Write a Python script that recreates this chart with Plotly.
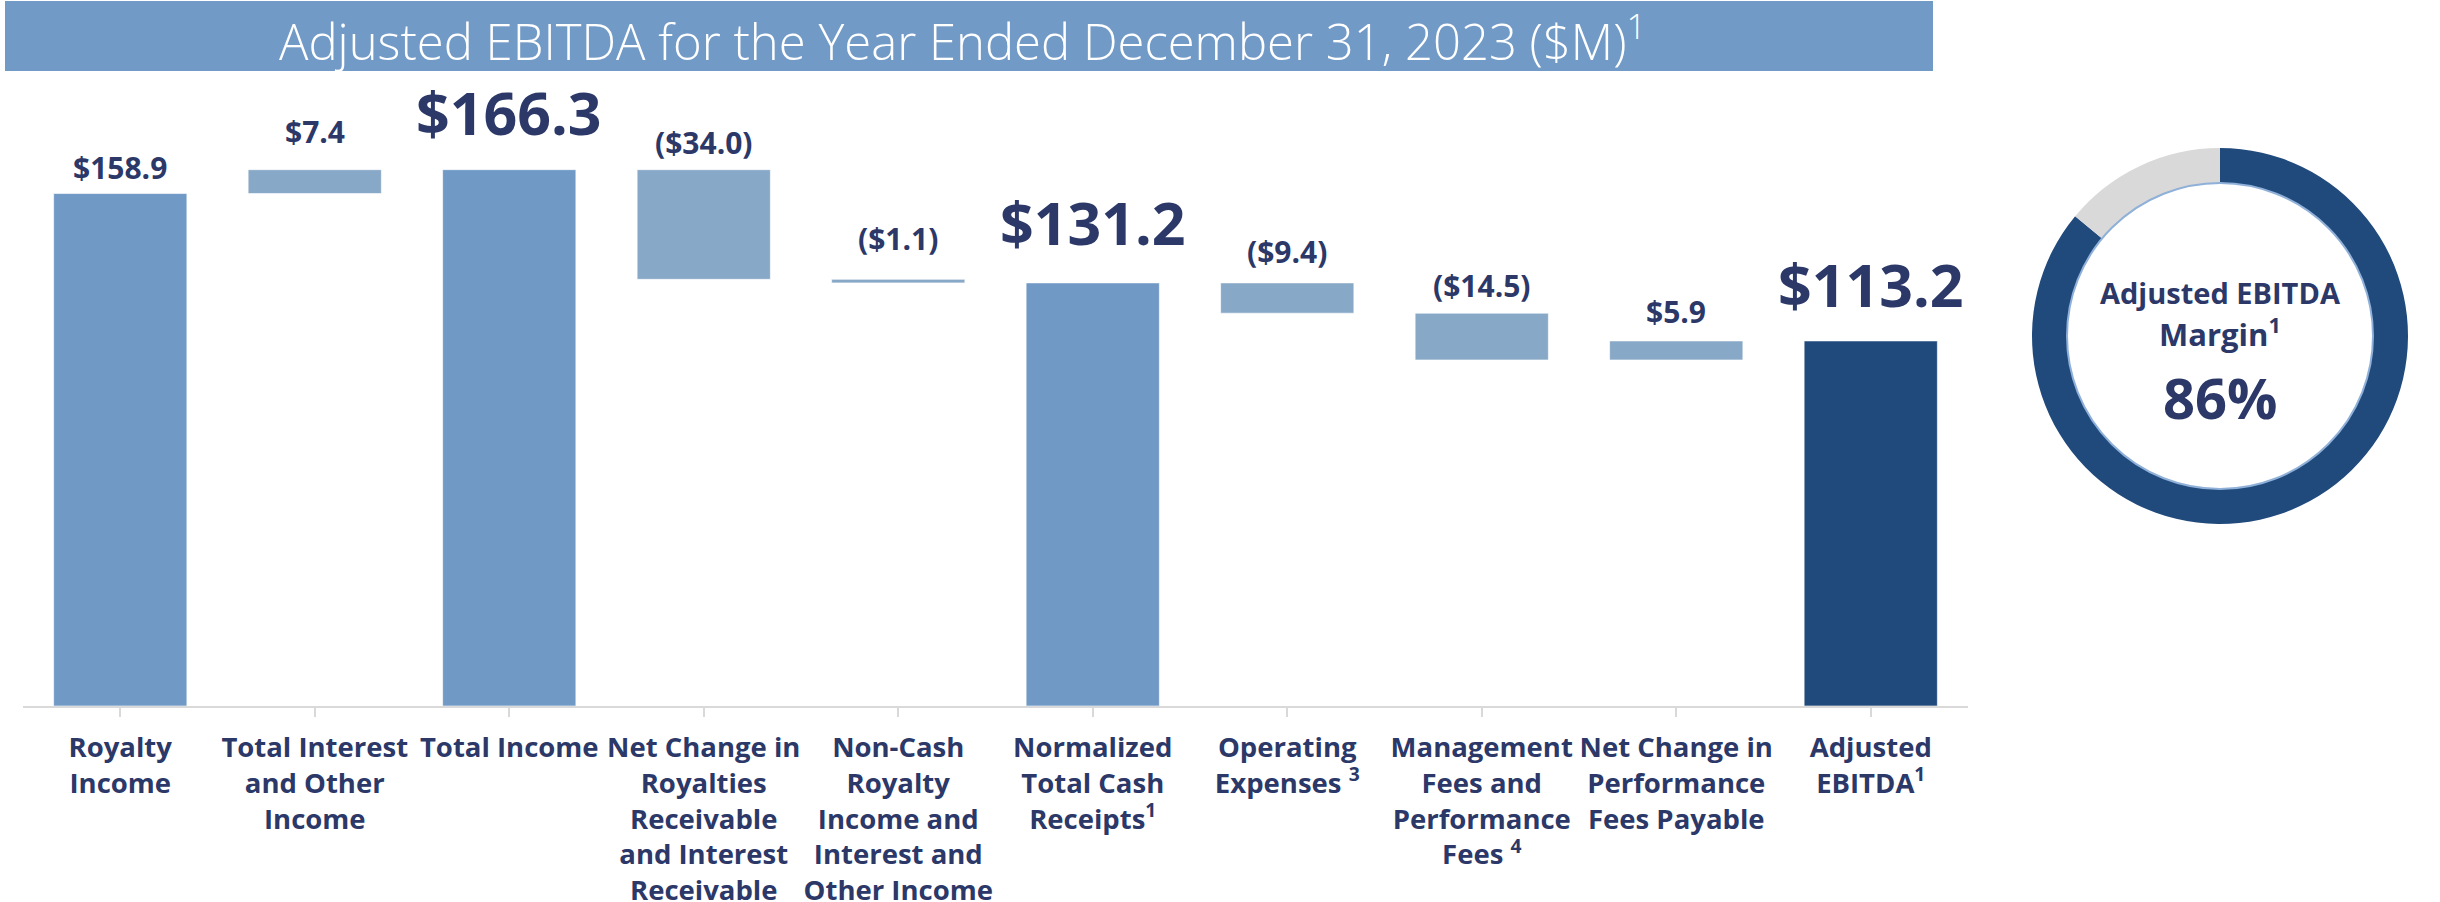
import plotly.graph_objects as go

# ---- data ----
categories = [
    "Royalty<br>Income",
    "Total Interest<br>and Other<br>Income",
    "Total Income",
    "Net Change in<br>Royalties<br>Receivable<br>and Interest<br>Receivable",
    "Non-Cash<br>Royalty<br>Income and<br>Interest and<br>Other Income",
    "Normalized<br>Total Cash<br>Receipts<sup>1</sup>",
    "Operating<br>Expenses <sup>3</sup>",
    "Management<br>Fees and<br>Performance<br>Fees <sup>4</sup>",
    "Net Change in<br>Performance<br>Fees Payable",
    "Adjusted<br>EBITDA<sup>1</sup>",
]
amounts = [158.9, 7.4, 166.3, -34.0, -1.1, 131.2, -9.4, -14.5, 5.9, 113.2]
kinds = ["total", "delta", "total", "delta", "delta", "total", "delta", "delta", "delta", "final"]

margin_pct = 86
margin_rest = 100 - margin_pct

# ---- styling ----
TEXT = "#2b3868"
C_TOTAL = "#7099c6"
C_DELTA = "#88a8c7"
C_FINAL = "#214a7c"
FONT = "Open Sans"
W, H = 2440, 902

# label pixel offsets above each bar top
label_shift = [4, 16, 16, 5, 18, 19, 9, 5, 7, 15]
big_labels = {2, 5, 9}

# ---- waterfall geometry from the amounts ----
bases, heights, colors = [], [], []
running = 0.0
for a, k in zip(amounts, kinds):
    if k in ("total", "final"):
        bases.append(0.0)
        heights.append(a)
        running = a
    else:
        bases.append(running)
        heights.append(a)
        running += a
    colors.append({"total": C_TOTAL, "delta": C_DELTA, "final": C_FINAL}[k])


def fmt(v):
    return f"(${abs(v):.1f})" if v < 0 else f"${v:.1f}"


x_idx = list(range(len(categories)))

fig = go.Figure()
fig.add_trace(go.Bar(
    x=x_idx, y=heights, base=bases,
    marker=dict(color=colors, line=dict(color="rgba(255,255,255,0.6)", width=1)),
    width=0.685, hoverinfo="skip", showlegend=False,
))

for i, (a, b, h) in enumerate(zip(amounts, bases, heights)):
    top = max(b, b + h)
    size = 59 if i in big_labels else 30
    fig.add_annotation(
        x=i, y=top, xref="x", yref="y", text=fmt(a), showarrow=False,
        xanchor="center", yanchor="bottom", yshift=label_shift[i],
        font=dict(family=FONT, size=size, color=TEXT, weight="bold"),
    )

# ---- margin donut ----
fig.add_trace(go.Pie(
    values=[margin_pct, margin_rest], sort=False, direction="clockwise", rotation=0,
    hole=0.814, marker=dict(colors=[C_FINAL, "#d9d9d9"], line=dict(width=0)),
    textinfo="none", hoverinfo="skip", showlegend=False,
    domain=dict(x=[2032 / W, 2408 / W], y=[(H - 524) / H, (H - 148) / H]),
))
cx, cy, r_in = 2220, 336, 153
fig.add_shape(type="circle", xref="paper", yref="paper",
              x0=(cx - r_in) / W, x1=(cx + r_in) / W,
              y0=(H - cy - r_in) / H, y1=(H - cy + r_in) / H,
              line=dict(color="#8fb0d8", width=2))
fig.add_annotation(x=cx / W, y=(H - 292) / H, xref="paper", yref="paper",
                   text="Adjusted EBITDA", showarrow=False,
                   xanchor="center", yanchor="middle",
                   font=dict(family=FONT, size=29, color=TEXT, weight="bold"))
fig.add_annotation(x=cx / W, y=(H - 333) / H, xref="paper", yref="paper",
                   text="Margin<sup>1</sup>", showarrow=False,
                   xanchor="center", yanchor="middle",
                   font=dict(family=FONT, size=31, color=TEXT, weight="bold"))
fig.add_annotation(x=cx / W, y=(H - 397) / H, xref="paper", yref="paper",
                   text=f"{margin_pct}%", showarrow=False,
                   xanchor="center", yanchor="middle",
                   font=dict(family=FONT, size=56, color=TEXT, weight="bold"))

# ---- title banner ----
fig.add_shape(type="rect", xref="paper", yref="paper",
              x0=5 / W, x1=1933 / W, y0=(H - 71) / H, y1=(H - 1) / H,
              fillcolor="#729ac7", line=dict(width=0), layer="below")
fig.add_annotation(x=962 / W, y=(H - 38) / H, xref="paper", yref="paper",
                   text="Adjusted EBITDA for the Year Ended December 31, 2023 ($M)<sup>1</sup>",
                   showarrow=False, xanchor="center", yanchor="middle",
                   font=dict(family=FONT, size=49, color="white", weight=300))

fig.update_layout(
    width=W, height=H, margin=dict(l=0, r=0, t=0, b=0, autoexpand=False),
    paper_bgcolor="white", plot_bgcolor="white",
    xaxis=dict(
        domain=[23 / W, 1968 / W], range=[-0.5, 9.5], automargin=False,
        tickmode="array", tickvals=x_idx, ticktext=categories,
        tickson="boundaries", ticks="outside", ticklen=9, tickcolor="#d9d9d9", tickwidth=2,
        showline=True, linecolor="#d9d9d9", linewidth=2, ticklabelstandoff=7,
        showgrid=False, zeroline=False, tickangle=0,
        tickfont=dict(family=FONT, size=27.5, color=TEXT, weight="bold"),
    ),
    yaxis=dict(domain=[(H - 706) / H, 1], range=[0, 706 / 3.225], automargin=False,
               visible=False, showgrid=False, zeroline=False),
)

fig.write_html("out.html")
